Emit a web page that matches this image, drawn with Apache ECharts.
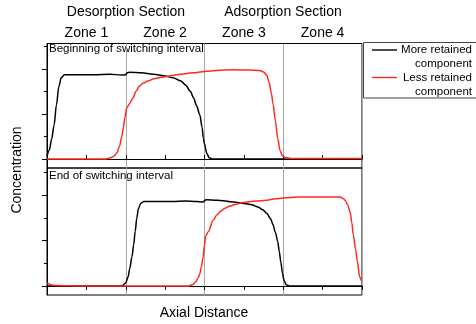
<!DOCTYPE html>
<html><head><meta charset="utf-8">
<script src="https://cdn.jsdelivr.net/npm/echarts@6/dist/echarts.min.js"></script>
<style>html,body{margin:0;padding:0;background:#fff}#c{width:476px;height:324px}</style>
</head><body><div id="c"></div>
<script>
// x in zone units (0..4), y = concentration
var zoneLabels = ['Zone 1','Zone 2','Zone 3','Zone 4'];
var sectionLabels = ['Desorption Section','Adsorption Section'];
var seriesNames = ['More retained component','Less retained component'];
var panelTitles = ['Beginning of switching interval','End of switching interval'];

var topMore = [[0,0.06],[0.03,0.2],[0.06,0.45],[0.09,0.75],[0.12,1.2],[0.15,1.6],[0.18,1.8],[0.22,1.87],[0.4,1.87],[0.6,1.87],[0.8,1.88],[0.95,1.86],[0.99,1.86],[1.02,1.91],[1.05,1.92],[1.2,1.91],[1.35,1.88],[1.5,1.84],[1.6,1.8],[1.7,1.73],[1.76,1.64],[1.82,1.5],[1.86,1.36],[1.9,1.18],[1.94,0.98],[1.97,0.7],[1.985,0.46],[2.0,0.33],[2.03,0.12],[2.06,0.03],[2.1,0],[2.5,0],[3,0],[3.5,0],[4,0]];
var topLess = [[0,0],[0.5,0],[0.75,0],[0.8,0.02],[0.85,0.06],[0.89,0.14],[0.92,0.28],[0.95,0.5],[0.97,0.7],[0.99,0.92],[1.01,1.12],[1.05,1.23],[1.09,1.35],[1.13,1.5],[1.17,1.61],[1.22,1.68],[1.28,1.73],[1.36,1.78],[1.45,1.81],[1.55,1.84],[1.7,1.88],[1.85,1.91],[2.0,1.94],[2.15,1.96],[2.37,1.98],[2.55,1.97],[2.7,1.96],[2.75,1.93],[2.79,1.86],[2.82,1.7],[2.85,1.45],[2.87,1.22],[2.9,0.85],[2.93,0.45],[2.96,0.18],[2.99,0.07],[3.03,0.03],[3.1,0.01],[3.5,0.01],[4,0.01]];
var botMore = [[0,0],[0.5,0],[0.9,0],[0.96,0.01],[1.0,0.07],[1.03,0.2],[1.05,0.38],[1.08,0.65],[1.1,0.9],[1.12,1.2],[1.14,1.49],[1.16,1.7],[1.19,1.82],[1.23,1.86],[1.4,1.86],[1.6,1.86],[1.75,1.87],[1.9,1.86],[1.98,1.85],[2.02,1.9],[2.16,1.89],[2.37,1.85],[2.5,1.82],[2.6,1.79],[2.68,1.74],[2.74,1.68],[2.79,1.6],[2.84,1.48],[2.87,1.35],[2.9,1.18],[2.93,0.98],[2.95,0.75],[2.97,0.52],[2.99,0.28],[3.01,0.12],[3.04,0.02],[3.08,0],[3.5,0],[4,0]];
var botLess = [[0,0.06],[0.02,0.05],[0.06,0.02],[0.12,0.01],[0.5,0],[1,0],[1.5,0],[1.8,0],[1.85,0.03],[1.89,0.09],[1.92,0.18],[1.94,0.27],[1.96,0.42],[1.98,0.62],[2.0,0.9],[2.015,1.1],[2.05,1.2],[2.11,1.45],[2.16,1.57],[2.2,1.64],[2.26,1.71],[2.32,1.76],[2.4,1.8],[2.49,1.84],[2.65,1.87],[2.79,1.89],[2.9,1.92],[3.0,1.94],[3.2,1.96],[3.45,1.96],[3.6,1.96],[3.72,1.96],[3.76,1.93],[3.79,1.88],[3.82,1.78],[3.85,1.62],[3.87,1.4],[3.89,1.12],[3.92,0.8],[3.94,0.55],[3.97,0.2],[3.99,0.12]];
var majorYTicks = [0,1,2];
var minorYTicks = [0.5,1.5,2.5];

var FONT = 'Liberation Sans, Arial, sans-serif';
var RED = '#ff2a1f';
var chart = echarts.init(document.getElementById('c'), null, {renderer:'canvas'});

function xAx(gi, inside){
  return {type:'value', gridIndex:gi, min:0, max:4, interval:1,
    axisLine:{show:true, lineStyle:{color:'#000', width:1}},
    axisTick:{show:true, inside:inside, length:4, lineStyle:{color:'#000'}},
    minorTick:{show:true, splitNumber:2, length:4, lineStyle:{color:'#000'}},
    axisLabel:{show:false},
    splitLine:{show:true, lineStyle:{color:'#a8a8a8', width:1}}};
}
function yAx(gi, mx, vals, len, showLine){
  return {type:'value', gridIndex:gi, min:-0.2, max:mx, position:'left',
    axisLine:{show:showLine, onZero:false, lineStyle:{color:'#000'}},
    axisTick:{show:true, customValues:vals, length:len, lineStyle:{color:'#000'}},
    axisLabel:{show:false}, splitLine:{show:false}};
}
function ser(name, xi, yi, data, color){
  return {type:'line', name:name, xAxisIndex:xi, yAxisIndex:yi, data:data, showSymbol:false,
    smooth:0.3, smoothMonotone:'x', lineStyle:{color:color, width:1.5}, itemStyle:{color:color}, animation:false};
}

var zoneCenters = [86.4, 165.1, 243.9, 322.6];
var graphics = [];
zoneLabels.forEach(function(z,i){
  graphics.push({type:'text', x:zoneCenters[i], y:33, style:{text:z, font:'14px '+FONT, fill:'#000', textAlign:'center', textVerticalAlign:'middle'}});
});
graphics.push({type:'text', x:126, y:12, style:{text:sectionLabels[0], font:'14px '+FONT, fill:'#000', textAlign:'center', textVerticalAlign:'middle'}});
graphics.push({type:'text', x:283, y:12, style:{text:sectionLabels[1], font:'14px '+FONT, fill:'#000', textAlign:'center', textVerticalAlign:'middle'}});
graphics.push({type:'text', x:49, y:49, style:{text:panelTitles[0], font:'11.5px '+FONT, fill:'#000', textAlign:'left', textVerticalAlign:'middle'}});
graphics.push({type:'text', x:49, y:176, style:{text:panelTitles[1], font:'11.5px '+FONT, fill:'#000', textAlign:'left', textVerticalAlign:'middle'}});
graphics.push({type:'text', x:17, y:170, rotation:Math.PI/2, style:{text:'Concentration', font:'14px '+FONT, fill:'#000', textAlign:'center', textVerticalAlign:'middle'}});
graphics.push({type:'text', x:204, y:313, style:{text:'Axial Distance', font:'14px '+FONT, fill:'#000', textAlign:'center', textVerticalAlign:'middle'}});
// legend
graphics.push({type:'rect', shape:{x:363.5, y:42.5, width:120, height:55.5}, style:{fill:'#fff', stroke:'#444', lineWidth:1}});
graphics.push({type:'line', shape:{x1:372, y1:50, x2:397, y2:50}, style:{stroke:'#000', lineWidth:1.4}});
graphics.push({type:'line', shape:{x1:372, y1:77.5, x2:397, y2:77.5}, style:{stroke:RED, lineWidth:1.4}});
graphics.push({type:'text', x:472, y:50, style:{text:'More retained', font:'11.5px '+FONT, fill:'#000', textAlign:'right', textVerticalAlign:'middle'}});
graphics.push({type:'text', x:472, y:64, style:{text:'component', font:'11.5px '+FONT, fill:'#000', textAlign:'right', textVerticalAlign:'middle'}});
graphics.push({type:'text', x:472, y:78, style:{text:'Less retained', font:'11.5px '+FONT, fill:'#000', textAlign:'right', textVerticalAlign:'middle'}});
graphics.push({type:'text', x:472, y:92, style:{text:'component', font:'11.5px '+FONT, fill:'#000', textAlign:'right', textVerticalAlign:'middle'}});

chart.setOption({
  animation:false,
  backgroundColor:'#fff',
  grid:[
    {left:47, top:43.5, width:315, height:124.5, show:true, borderColor:'#000', borderWidth:1, backgroundColor:'transparent'},
    {left:47, top:168, width:315, height:127, show:true, borderColor:'#000', borderWidth:1, backgroundColor:'transparent'}
  ],
  xAxis:[xAx(0,true), xAx(1,false)],
  yAxis:[
    yAx(0, 2.56, majorYTicks, 5, true), yAx(0, 2.56, minorYTicks, 3, false),
    yAx(1, 2.6, majorYTicks, 5, true), yAx(1, 2.6, minorYTicks, 3, false)
  ],
  series:[
    ser(seriesNames[0],0,0,topMore,'#000'),
    ser(seriesNames[1],0,0,topLess,RED),
    ser(seriesNames[0],1,2,botMore,'#000'),
    ser(seriesNames[1],1,2,botLess,RED)
  ],
  graphic:graphics
});
</script></body></html>
